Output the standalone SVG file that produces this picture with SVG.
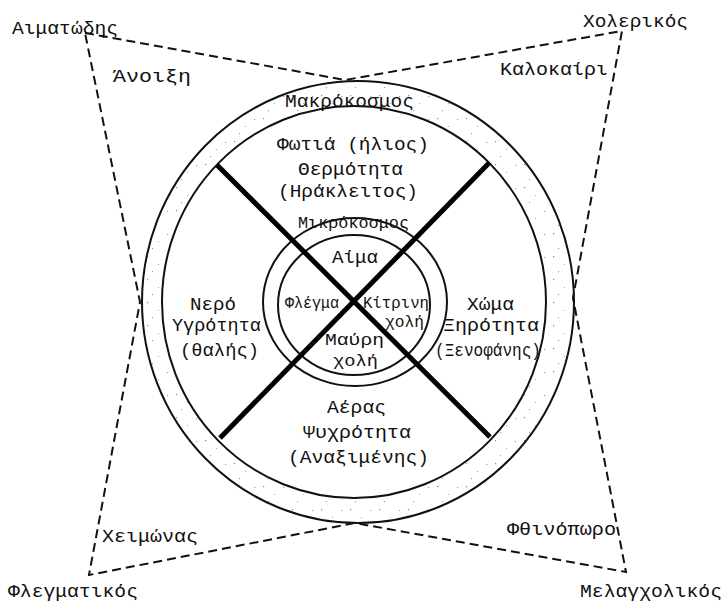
<svg xmlns="http://www.w3.org/2000/svg" width="723" height="605" viewBox="0 0 723 605">
<style>
  .t { font-family: "Liberation Mono", "DejaVu Sans Mono", monospace; font-size: 19px; fill: #111; }
  .s { font-size: 17px; }
  .c { fill: none; stroke: #111; stroke-width: 2; }
  .x { stroke: #000; stroke-width: 5; stroke-linecap: butt; }
  .d { fill: none; stroke: #111; stroke-width: 2; stroke-dasharray: 9 5; }
</style>
<defs>
  <pattern id="speck" width="29" height="23" patternUnits="userSpaceOnUse">
    <rect x="2" y="3" width="1.2" height="1.2" fill="#888"/>
    <rect x="13" y="11" width="1" height="1" fill="#aaa"/>
    <rect x="22" y="4" width="1.2" height="1" fill="#999"/>
    <rect x="7" y="18" width="1" height="1.2" fill="#999"/>
  </pattern>
</defs>
<rect width="723" height="605" fill="#fff"/>

<g id="seasons-frame">
  <polygon class="d" points="85,33 345,80 622,31 573,298 626,572 355,523 89,575 140,302"/>
</g>

<g id="macrocosm-ring">
  <path d="M142,302 a216,221 0 1,0 432,0 a216,221 0 1,0 -432,0 Z M162,302 a192,196 0 1,1 384,0 a192,196 0 1,1 -384,0 Z" fill="url(#speck)" fill-rule="evenodd"/>
  <ellipse class="c" cx="358" cy="302" rx="216" ry="221" stroke-width="2.5"/>
  <ellipse class="c" cx="354" cy="302" rx="192" ry="196"/>
</g>

<g id="microcosm-ring">
  <ellipse class="c" cx="355" cy="302" rx="92" ry="84"/>
  <ellipse class="c" cx="354" cy="305" rx="76" ry="70"/>
</g>

<g id="connectors">
  <line class="x" x1="217" y1="165" x2="490" y2="437"/>
  <line class="x" x1="489" y1="163" x2="220" y2="438"/>
</g>

<g id="corner-labels">
  <text class="t" x="12" y="34" textLength="106" lengthAdjust="spacingAndGlyphs">Αιματώδης</text>
  <text class="t" x="583" y="27" textLength="105" lengthAdjust="spacingAndGlyphs">Χολερικός</text>
  <text class="t" x="8" y="597" textLength="130" lengthAdjust="spacingAndGlyphs">Φλεγματικός</text>
  <text class="t" x="580" y="597" textLength="142" lengthAdjust="spacingAndGlyphs">Μελαγχολικός</text>
</g>

<g id="season-labels">
  <text class="t" x="113" y="82" textLength="78" lengthAdjust="spacingAndGlyphs">Άνοιξη</text>
  <text class="t" x="500" y="75" textLength="108" lengthAdjust="spacingAndGlyphs">Καλοκαίρι</text>
  <text class="t" x="102" y="542" textLength="96" lengthAdjust="spacingAndGlyphs">Χειμώνας</text>
  <text class="t" x="507" y="535" textLength="109" lengthAdjust="spacingAndGlyphs">Φθινόπωρο</text>
</g>

<g id="macrocosm-label">
  <text class="t" x="285" y="107" textLength="129" lengthAdjust="spacingAndGlyphs">Μακρόκοσμος</text>
</g>

<g id="fire">
  <text class="t" x="277" y="150" textLength="152" lengthAdjust="spacingAndGlyphs">Φωτιά (ήλιος)</text>
  <text class="t" x="298" y="175" textLength="105" lengthAdjust="spacingAndGlyphs">Θερμότητα</text>
  <text class="t" x="278" y="197" textLength="140" lengthAdjust="spacingAndGlyphs">(Ηράκλειτος)</text>
</g>

<g id="water">
  <text class="t" x="190" y="310" textLength="46" lengthAdjust="spacingAndGlyphs">Νερό</text>
  <text class="t" x="172" y="331" textLength="89" lengthAdjust="spacingAndGlyphs">Υγρότητα</text>
  <text class="t" x="180" y="356" textLength="79" lengthAdjust="spacingAndGlyphs">(θαλής)</text>
</g>

<g id="earth">
  <text class="t" x="467" y="310" textLength="47" lengthAdjust="spacingAndGlyphs">Χώμα</text>
  <text class="t" x="443" y="331" textLength="96" lengthAdjust="spacingAndGlyphs">Ξηρότητα</text>
  <text class="t" x="435" y="356" textLength="106" lengthAdjust="spacingAndGlyphs">(Ξενοφάνης)</text>
</g>

<g id="air">
  <text class="t" x="327" y="413" textLength="59" lengthAdjust="spacingAndGlyphs">Αέρας</text>
  <text class="t" x="303" y="438" textLength="108" lengthAdjust="spacingAndGlyphs">Ψυχρότητα</text>
  <text class="t" x="288" y="463" textLength="141" lengthAdjust="spacingAndGlyphs">(Αναξιμένης)</text>
</g>

<g id="microcosm">
  <text class="t s" x="298" y="228" textLength="111" lengthAdjust="spacingAndGlyphs">Μικρόκοσμος</text>
  <text class="t" x="332" y="263" textLength="46" lengthAdjust="spacingAndGlyphs">Αίμα</text>
  <text class="t s" x="285" y="308" textLength="54" lengthAdjust="spacingAndGlyphs">Φλέγμα</text>
  <text class="t s" x="363" y="308" textLength="66" lengthAdjust="spacingAndGlyphs">Κίτρινη</text>
  <text class="t s" x="385" y="327" textLength="39" lengthAdjust="spacingAndGlyphs">χολή</text>
  <text class="t s" x="325" y="345" textLength="59" lengthAdjust="spacingAndGlyphs">Μαύρη</text>
  <text class="t s" x="333" y="366" textLength="45" lengthAdjust="spacingAndGlyphs">χολή</text>
</g>
</svg>
